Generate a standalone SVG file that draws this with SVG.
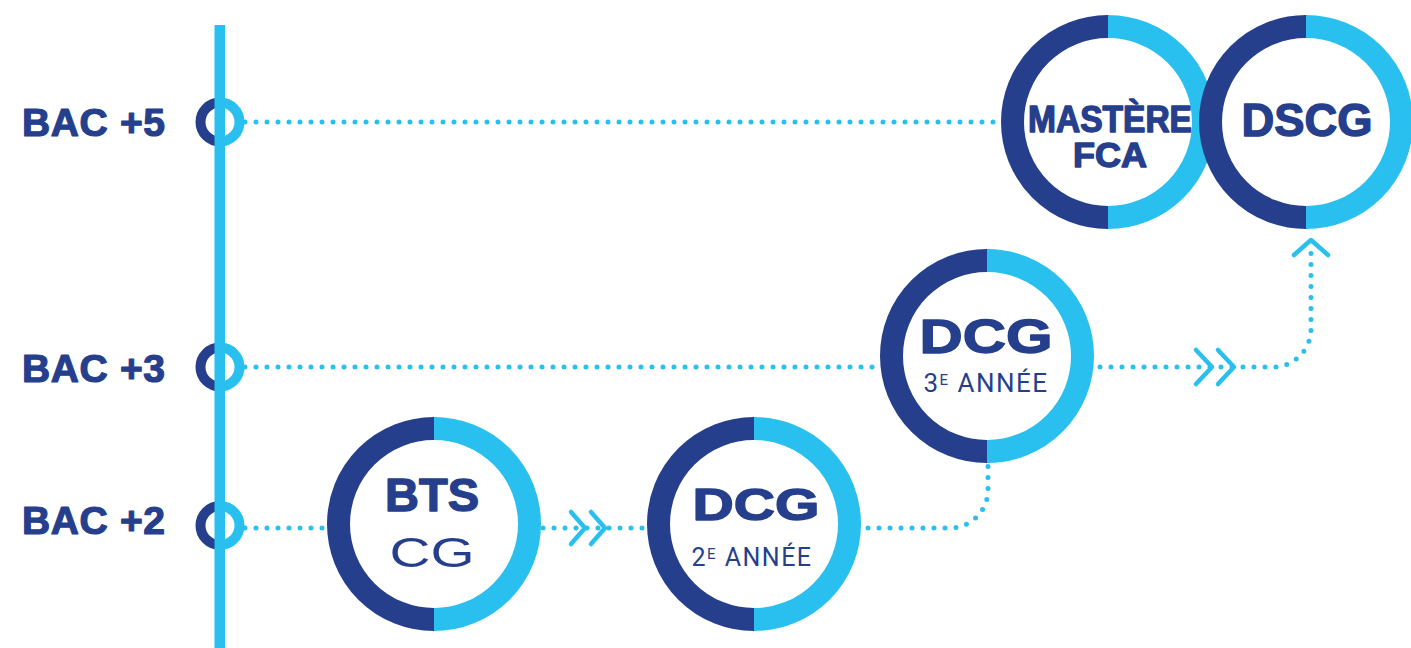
<svg xmlns="http://www.w3.org/2000/svg" width="1411" height="648" viewBox="0 0 1411 648">
<style>
.dk{fill:none;stroke:#263F8C;}
.lt{fill:none;stroke:#29C0EF;}
.big{stroke-width:23;}
.small{stroke-width:10;}
.dots{fill:none;stroke:#29C0EF;stroke-width:5;stroke-dasharray:0 11;stroke-linecap:round;}
.chev{fill:none;stroke:#29C0EF;stroke-width:4.5;stroke-linecap:round;stroke-linejoin:round;}
.lbl{font-family:"Liberation Sans",Arial,sans-serif;font-weight:bold;fill:#263F8C;stroke:#263F8C;stroke-width:1.2;stroke-linejoin:round;}
.ttl{font-family:"Liberation Sans",Arial,sans-serif;font-weight:bold;fill:#263F8C;stroke:#263F8C;stroke-width:1.4;stroke-linejoin:round;text-anchor:middle;}
.sub{font-family:Roboto,"Liberation Sans",sans-serif;fill:#263F8C;text-anchor:middle;letter-spacing:1.5px;}
.cg{font-family:"Liberation Sans",Arial,sans-serif;fill:#263F8C;text-anchor:middle;}
.bg{fill:#fff;}
</style>
<g id="connectors">
<path class="dots" d="M245 122 H1000"/>
<path class="dots" d="M245 367 H878"/>
<path class="dots" d="M245 528 H326"/>
<path class="dots" d="M543 528 H646"/>
<polyline class="chev" points="571,512 585,528 571,544"/>
<polyline class="chev" points="591,512 605,528 591,544"/>
<path class="dots" d="M868 528 H950 A38 38 0 0 0 988 490 V462"/>
<path class="dots" d="M1100 367 H1273 A38 38 0 0 0 1311 329 V246"/>
<polyline class="chev" points="1196,350 1212,367 1196,384"/>
<polyline class="chev" points="1218,350 1234,367 1218,384"/>
<polyline class="chev" points="1294,255 1311,240 1328,255"/>
</g>
<g id="axis">
<g id="bac5">
<path class="dk small" d="M220 102.5 A19.5 19.5 0 0 0 220 141.5"/>
<path class="lt small" d="M220 102.5 A19.5 19.5 0 0 1 220 141.5"/>
<text class="lbl" x="22" y="136" font-size="39" textLength="143">BAC +5</text>
</g>
<g id="bac3">
<path class="dk small" d="M220 347.5 A19.5 19.5 0 0 0 220 386.5"/>
<path class="lt small" d="M220 347.5 A19.5 19.5 0 0 1 220 386.5"/>
<text class="lbl" x="22" y="382" font-size="39" textLength="143">BAC +3</text>
</g>
<g id="bac2">
<path class="dk small" d="M220 506 A19.5 19.5 0 0 0 220 545"/>
<path class="lt small" d="M220 506 A19.5 19.5 0 0 1 220 545"/>
<text class="lbl" x="22" y="534" font-size="39" textLength="143">BAC +2</text>
</g>
<rect x="214.5" y="25" width="10.5" height="623" fill="#29C0EF"/>
</g>
<g id="bts">
<circle class="bg" cx="434" cy="524" r="96"/>
<path class="dk big" d="M434 428.5 A95.5 95.5 0 0 0 434 619.5"/>
<path class="lt big" d="M434 428.5 A95.5 95.5 0 0 1 434 619.5"/>
<text class="ttl" x="432" y="511" font-size="46" textLength="94" lengthAdjust="spacingAndGlyphs">BTS</text>
<text class="cg" x="432" y="567" font-size="42" textLength="85" lengthAdjust="spacingAndGlyphs">CG</text>
</g>
<g id="dcg2">
<circle class="bg" cx="754" cy="524" r="96"/>
<path class="dk big" d="M754 428.5 A95.5 95.5 0 0 0 754 619.5"/>
<path class="lt big" d="M754 428.5 A95.5 95.5 0 0 1 754 619.5"/>
<text class="ttl" x="756" y="520" font-size="45" textLength="127" lengthAdjust="spacingAndGlyphs">DCG</text>
<text class="sub" x="752" y="566" font-size="25">2<tspan font-size="15" dy="-7">E</tspan><tspan dy="7"> ANNÉE</tspan></text>
</g>
<g id="dcg3">
<circle class="bg" cx="987" cy="356" r="96"/>
<path class="dk big" d="M987 260.5 A95.5 95.5 0 0 0 987 451.5"/>
<path class="lt big" d="M987 260.5 A95.5 95.5 0 0 1 987 451.5"/>
<text class="ttl" x="986" y="353" font-size="48" textLength="133" lengthAdjust="spacingAndGlyphs">DCG</text>
<text class="sub" x="986" y="392" font-size="26">3<tspan font-size="15" dy="-7">E</tspan><tspan dy="7"> ANNÉE</tspan></text>
</g>
<g id="mastere">
<circle class="bg" cx="1108" cy="122" r="96"/>
<path class="dk big" d="M1108 26.5 A95.5 95.5 0 0 0 1108 217.5"/>
<path class="lt big" d="M1108 26.5 A95.5 95.5 0 0 1 1108 217.5"/>
<text class="ttl" x="1110" y="132" font-size="36" textLength="164" lengthAdjust="spacingAndGlyphs">MASTÈRE</text>
<text class="ttl" x="1110" y="167" font-size="35" textLength="74" lengthAdjust="spacingAndGlyphs">FCA</text>
</g>
<g id="dscg">
<circle class="bg" cx="1306" cy="122" r="96"/>
<path class="dk big" d="M1306 26.5 A95.5 95.5 0 0 0 1306 217.5"/>
<path class="lt big" d="M1306 26.5 A95.5 95.5 0 0 1 1306 217.5"/>
<text class="ttl" x="1307" y="136" font-size="47" textLength="131" lengthAdjust="spacingAndGlyphs">DSCG</text>
</g>
</svg>
